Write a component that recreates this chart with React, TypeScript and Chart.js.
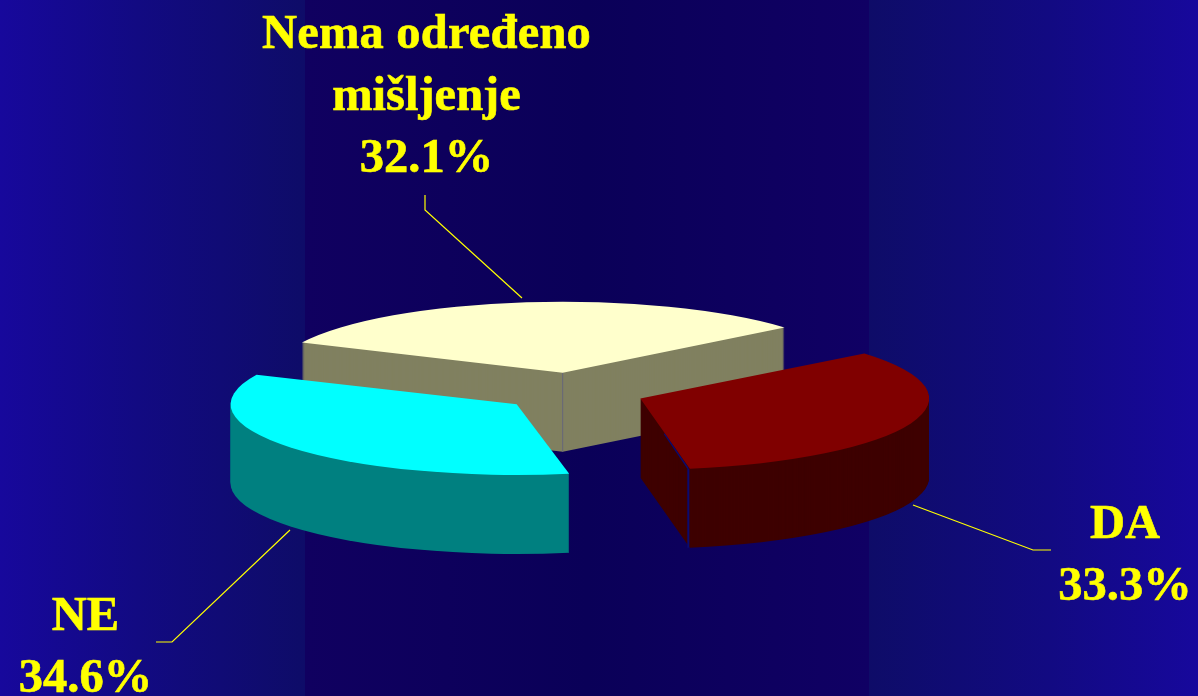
import React, { useEffect, useRef } from "react";
import { Chart, registerables } from "chart.js";

Chart.register(...registerables);

const categories = ["Nema određeno mišljenje", "DA", "NE"];
const values = [32.1, 33.3, 34.6];
const labelLines = [["Nema određeno", "mišljenje"], ["DA"], ["NE"]];
const topColors = ["#FFFFCC", "#800000", "#00FFFF"];
const sideColors = ["#808060", "#3E0000", "#008080"];

const WIDTH = 1198;
const HEIGHT = 696;
const SQUASH = 0.247;
const DEPTH = 79;
const CENTER_X = 572;
const CENTER_Y = 391;
const drawOrder = [0, 2, 1];
const radiusTweak = [4, 2, -4];
const startAngleTweak = [0, 0, -0.025];
const sliceShift = [
  [0, 0],
  [-1, 1],
  [3, 2],
];
const labelPlace = [
  { x: 426.5, y: 48, spacing: "0.2px" },
  { x: 1125, y: 538, spacing: "0px" },
  { x: 85.5, y: 630, spacing: "0px" },
];
const leaders = [
  [[425, 195], [425, 210], [522, 298]],
  [[913, 505], [1033, 550], [1051, 550]],
  [[290, 530], [172, 642], [156, 642]],
];

const scenePlugin = {
  id: "scene",
  beforeDraw(chart: any) {
    const { ctx } = chart;
    const left = ctx.createLinearGradient(0, 0, 305, 0);
    left.addColorStop(0, "#17089C");
    left.addColorStop(0.45, "#120A82");
    left.addColorStop(1, "#0E0C68");
    ctx.fillStyle = left;
    ctx.fillRect(0, 0, 305, HEIGHT);
    const mid = ctx.createLinearGradient(305, 0, 869, 0);
    mid.addColorStop(0, "#100060");
    mid.addColorStop(0.5, "#0A0058");
    mid.addColorStop(1, "#100064");
    ctx.fillStyle = mid;
    ctx.fillRect(305, 0, 564, HEIGHT);
    const right = ctx.createLinearGradient(869, 0, WIDTH, 0);
    right.addColorStop(0, "#0E0C68");
    right.addColorStop(0.55, "#120A82");
    right.addColorStop(1, "#17089C");
    ctx.fillStyle = right;
    ctx.fillRect(869, 0, WIDTH - 869, HEIGHT);
  },
  beforeDatasetsDraw(chart: any) {
    const { ctx } = chart;
    const arcs = chart.getDatasetMeta(0).data;
    const drawArc = (arc: any, i: number, color: string, dy: number) => {
      const saved = arc.options;
      const savedRadius = arc.outerRadius;
      const savedStart = arc.startAngle;
      arc.options = { ...saved, backgroundColor: color, borderColor: color, borderWidth: 0 };
      arc.outerRadius = savedRadius + radiusTweak[i];
      arc.startAngle = savedStart + startAngleTweak[i];
      ctx.save();
      ctx.translate(CENTER_X + sliceShift[i][0], CENTER_Y + sliceShift[i][1] + dy);
      ctx.scale(1, SQUASH);
      ctx.translate(-arc.x, -arc.y);
      arc.draw(ctx);
      ctx.restore();
      arc.options = saved;
      arc.outerRadius = savedRadius;
      arc.startAngle = savedStart;
    };
    const project = (arc: any, i: number, angle: number, radius: number) => {
      const half = (arc.startAngle + arc.endAngle) / 2;
      const off = arc.options.offset / 4;
      return {
        x: CENTER_X + sliceShift[i][0] + Math.cos(half) * off + Math.cos(angle) * radius,
        y: CENTER_Y + sliceShift[i][1] + (Math.sin(half) * off + Math.sin(angle) * radius) * SQUASH,
      };
    };
    const segment = (a: any, b: any, color: string, width = 1) => {
      ctx.save();
      ctx.strokeStyle = color;
      ctx.lineWidth = width;
      ctx.beginPath();
      ctx.moveTo(a.x, a.y);
      ctx.lineTo(b.x, b.y);
      ctx.stroke();
      ctx.restore();
    };
    drawOrder.forEach((i) => {
      const arc = arcs[i];
      for (let dy = DEPTH; dy > 0; dy--) drawArc(arc, i, sideColors[i], dy);
      if (i === 0) {
        const p = project(arc, i, arc.startAngle, 0);
        segment(p, { x: p.x, y: p.y + DEPTH }, "#66667A");
      }
      if (i === 1) {
        const r = arc.outerRadius + radiusTweak[i] + 10;
        const p = project(arc, i, arc.endAngle, r);
        const q = project(arc, i, arc.endAngle, r * 0.5);
        segment(p, { x: p.x, y: p.y + DEPTH }, "#0A0A70", 2);
        segment(p, q, "#0A0A70", 1.5);
      }
      drawArc(arc, i, topColors[i], 0);
    });
    return false;
  },
  afterDraw(chart: any) {
    const { ctx } = chart;
    ctx.save();
    ctx.strokeStyle = "#FFFF00";
    ctx.lineWidth = 1.2;
    leaders.forEach((pts) => {
      ctx.beginPath();
      pts.forEach(([x, y], k) => (k ? ctx.lineTo(x, y) : ctx.moveTo(x, y)));
      ctx.stroke();
    });
    ctx.fillStyle = "#FFFF00";
    ctx.lineWidth = 0.6;
    ctx.font = 'bold 48.5px "Liberation Serif"';
    ctx.textAlign = "center";
    ctx.textBaseline = "alphabetic";
    labelLines.forEach((lines, i) => {
      const place = labelPlace[i];
      const texts = [...lines, `${values[i].toFixed(1)}%`];
      texts.forEach((t, k) => {
        ctx.letterSpacing = k === 0 ? place.spacing : "0px";
        ctx.fillText(t, place.x, place.y + k * 62);
        ctx.strokeText(t, place.x, place.y + k * 62);
      });
    });
    ctx.restore();
  },
};

export default function App() {
  const ref = useRef<HTMLCanvasElement | null>(null);
  useEffect(() => {
    document.body.style.margin = "0";
    const chart = new Chart(ref.current as HTMLCanvasElement, {
      type: "pie",
      data: {
        labels: categories,
        datasets: [
          {
            data: values,
            backgroundColor: topColors,
            borderWidth: 0,
            offset: 296,
          },
        ],
      },
      options: {
        responsive: false,
        animation: false,
        events: [],
        rotation: -65,
        radius: 277,
        layout: { padding: 0 },
        plugins: { legend: { display: false }, tooltip: { enabled: false } },
      },
      plugins: [scenePlugin],
    } as any);
    return () => chart.destroy();
  }, []);
  return (
    <canvas
      ref={ref}
      width={WIDTH}
      height={HEIGHT}
      style={{ display: "block", width: WIDTH, height: HEIGHT }}
    />
  );
}
